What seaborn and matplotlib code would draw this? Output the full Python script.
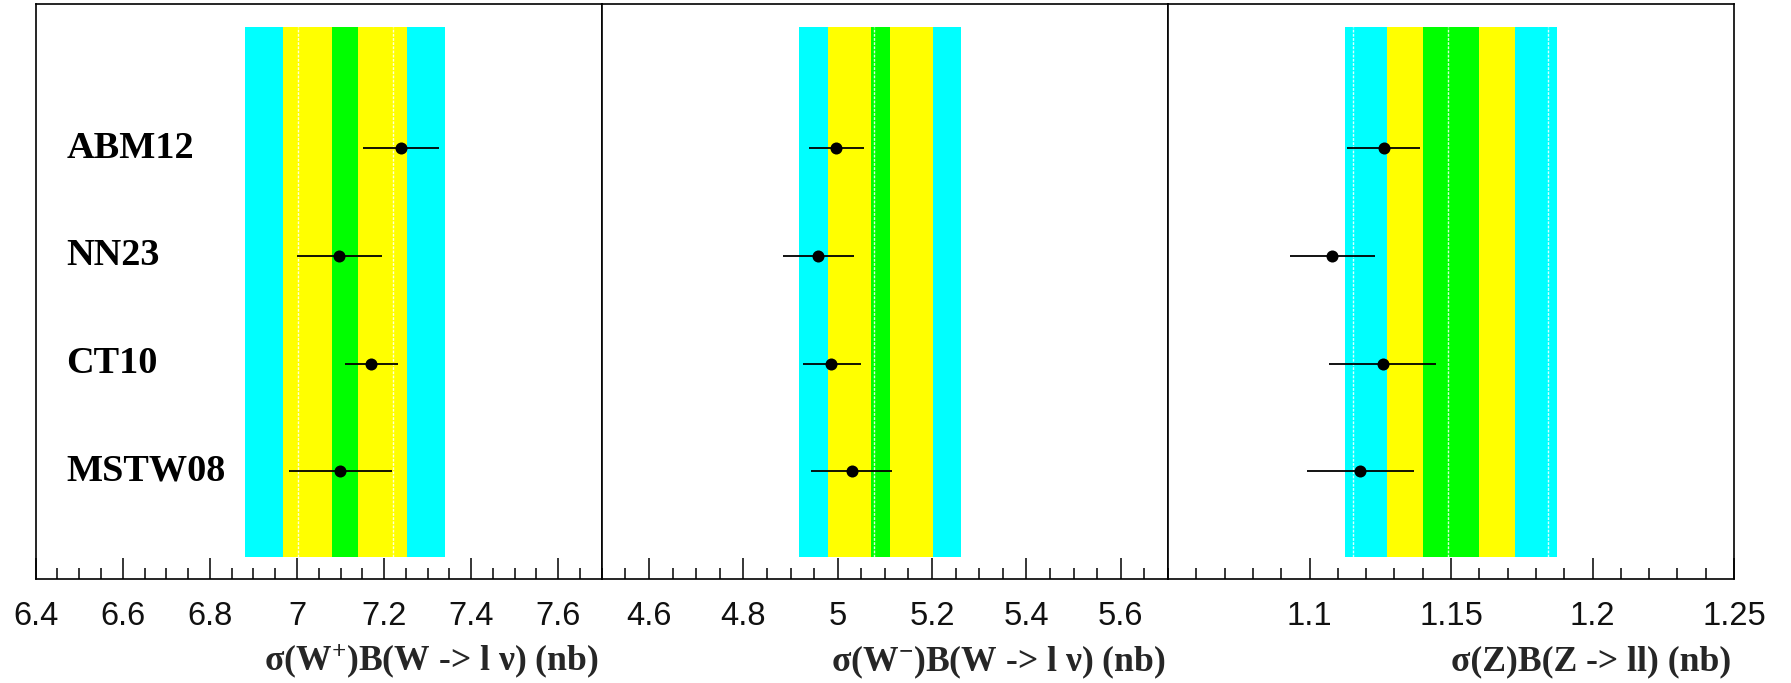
import numpy as np
import pandas as pd
import matplotlib
matplotlib.use("Agg")
import matplotlib.pyplot as plt
import seaborn as sns
from matplotlib.ticker import FixedLocator, MultipleLocator

# ---------------- data ----------------
pdfs = ["ABM12", "NN23", "CT10", "MSTW08"]
ypos = [4, 3, 2, 1]

wp_val = [7.239, 7.096, 7.171, 7.099]
wp_lo = [7.152, 7.000, 7.110, 6.982]
wp_hi = [7.327, 7.195, 7.231, 7.219]

wm_val = [4.997, 4.959, 4.986, 5.030]
wm_lo = [4.940, 4.884, 4.927, 4.944]
wm_hi = [5.055, 5.035, 5.049, 5.116]

z_val = [1.1262, 1.1080, 1.1258, 1.1178]
z_lo = [1.1134, 1.0930, 1.1070, 1.0990]
z_hi = [1.1390, 1.1231, 1.1447, 1.1368]

# measurement bands: (outer cyan, yellow, inner green), white marker lines
wp_cyan, wp_yellow, wp_green, wp_white = (6.881, 7.340), (6.967, 7.253), (7.080, 7.140), [7.002, 7.221]
wm_cyan, wm_yellow, wm_green, wm_white = (4.918, 5.261), (4.979, 5.203), (5.070, 5.110), [5.076]
z_cyan, z_yellow, z_green, z_white = (1.1125, 1.1875), (1.1275, 1.1725), (1.140, 1.160), [1.1152, 1.149, 1.1842]

wp_range = (6.4, 7.7)
wm_range = (4.5, 5.7)
z_range = (1.05, 1.25)

wp_ticks = [6.4, 6.6, 6.8, 7.0, 7.2, 7.4, 7.6]
wp_ticklabels = ["6.4", "6.6", "6.8", "7", "7.2", "7.4", "7.6"]
wm_ticks = [4.6, 4.8, 5.0, 5.2, 5.4, 5.6]
wm_ticklabels = ["4.6", "4.8", "5", "5.2", "5.4", "5.6"]
z_ticks = [1.1, 1.15, 1.2, 1.25]
z_ticklabels = ["1.1", "1.15", "1.2", "1.25"]

wp_label = r"σ(W$^{+}$)B(W -> l ν) (nb)"
wm_label = r"σ(W$^{-}$)B(W -> l ν) (nb)"
z_label = "σ(Z)B(Z -> ll) (nb)"

# ---------------- style ----------------
sns.set_theme(style="white")
plt.rcParams["font.family"] = ["Liberation Sans", "DejaVu Sans"]
plt.rcParams["mathtext.fontset"] = "custom"
plt.rcParams["mathtext.rm"] = "Liberation Serif:bold"
plt.rcParams["mathtext.bf"] = "Liberation Serif:bold"
plt.rcParams["mathtext.it"] = "Liberation Serif:bold"

W, H = 1791, 683
fig = plt.figure(figsize=(W / 100, H / 100), dpi=100)
fig.patch.set_facecolor("white")

y_bottom, y_top = 579, 4
panel_px = [(35.7, 601.8), (601.8, 1168.0), (1168.0, 1734.0)]

band_lo, band_hi = 0.2, 5.13
ylim = (0, 5.34)

panels = [
    (wp_val, wp_lo, wp_hi, wp_cyan, wp_yellow, wp_green, wp_white, wp_range, wp_ticks, wp_ticklabels, 0.05, wp_label),
    (wm_val, wm_lo, wm_hi, wm_cyan, wm_yellow, wm_green, wm_white, wm_range, wm_ticks, wm_ticklabels, 0.05, wm_label),
    (z_val, z_lo, z_hi, z_cyan, z_yellow, z_green, z_white, z_range, z_ticks, z_ticklabels, 0.01, z_label),
]

axes = []
for i, (vals, lo, hi, cyan, yellow, green, white, xr, ticks, tlabels, minor, xlabel) in enumerate(panels):
    x0, x1 = panel_px[i]
    ax = fig.add_axes([x0 / W, (H - y_bottom) / H, (x1 - x0) / W, (y_bottom - y_top) / H])
    axes.append(ax)
    ax.set_facecolor("white")
    yy = [band_lo, band_hi]
    for (a, b), col in [(cyan, "#00FFFF"), (yellow, "#FFFF00"), (green, "#00FF00")]:
        ax.fill_betweenx(yy, a, b, color=col, linewidth=0, zorder=1)
    for wx in white:
        ax.plot([wx, wx], yy, color="white", lw=1.0, ls=(0, (2, 1)), alpha=0.85, zorder=2)

    df = pd.DataFrame({"pdf": pdfs, "y": ypos, "val": vals, "lo": lo, "hi": hi})
    ax.hlines(df["y"], df["lo"], df["hi"], color="black", lw=1.3, zorder=3)
    sns.scatterplot(data=df, x="val", y="y", ax=ax, color="black", s=75,
                    edgecolor="black", linewidth=0, zorder=4, legend=False)

    ax.set_xlim(*xr)
    ax.set_ylim(*ylim)
    ax.set_yticks([])
    ax.set_ylabel("")
    ax.xaxis.set_major_locator(FixedLocator(ticks))
    ax.set_xticklabels(tlabels)
    ax.xaxis.set_minor_locator(MultipleLocator(minor))
    ax.tick_params(axis="x", which="major", direction="in", length=15, width=1.1,
                   color="black", labelsize=23.5, pad=16, bottom=True, labelcolor="#111111")
    ax.tick_params(axis="x", which="minor", direction="in", length=8, width=1.1,
                   color="black", bottom=True)
    for lab in ax.get_xticklabels():
        lab.set_fontfamily("Liberation Sans")
    for sp in ax.spines.values():
        sp.set_color("black")
        sp.set_linewidth(1.2)
        sp.set_visible(True)
    ax.set_xlabel(xlabel, fontsize=25.7, fontweight="bold", fontfamily="Liberation Serif")
    ax.xaxis.label.set_va("center")
    ax.xaxis.label.set_ha("right")
    ax.xaxis.set_label_coords(0.995, ((H - 662) / H - (H - y_bottom) / H) / ((y_bottom - y_top) / H))

# PDF names in first panel
ax0 = axes[0]
for name, y in zip(pdfs, ypos):
    ax0.text(6.47, y, name, ha="left", va="center", fontsize=27.5,
             fontweight="bold", fontfamily="Liberation Serif", color="black", zorder=5)

fig.savefig("out.png", dpi=100, facecolor="white")
